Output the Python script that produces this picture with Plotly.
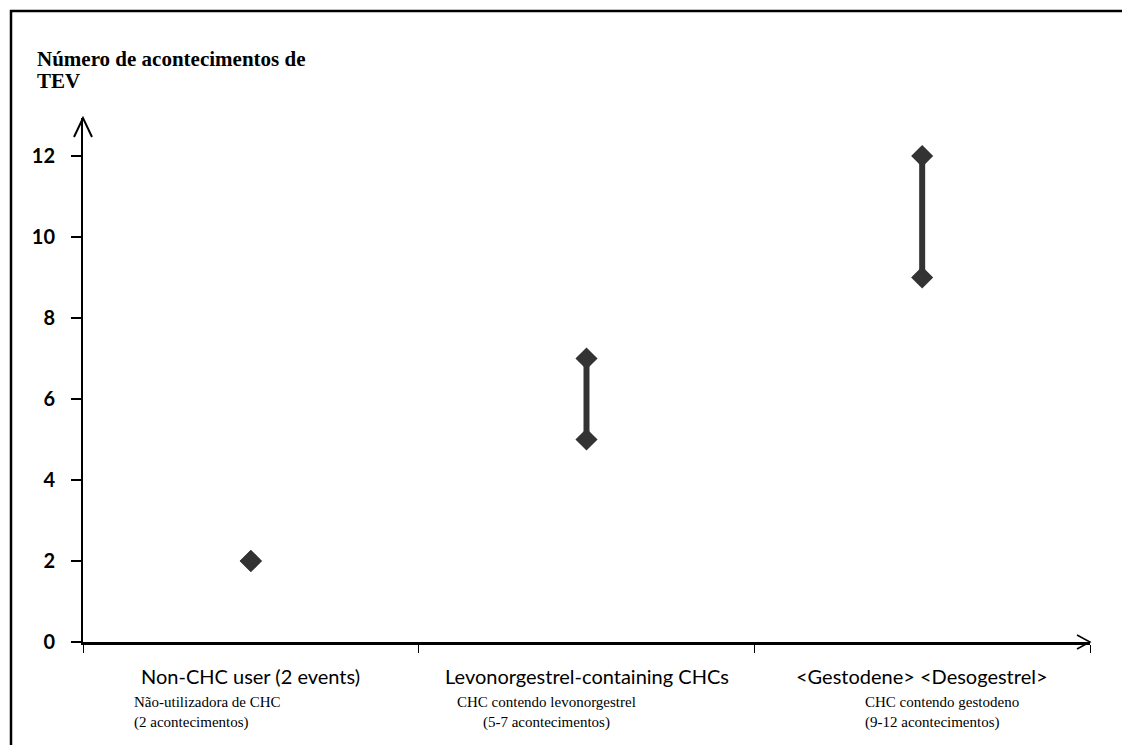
import plotly.graph_objects as go

# ---- data ----
categories_en = ["Non-CHC user (2 events)", "Levonorgestrel-containing CHCs", "<Gestodene> <Desogestrel>"]
categories_pt = ["Não-utilizadora de CHC<br>(2 acontecimentos)",
                 "CHC contendo levonorgestrel<br>(5-7 acontecimentos)",
                 "CHC contendo gestodeno<br>(9-12 acontecimentos)"]
events_low = [2, 5, 9]
events_high = [2, 7, 12]
y_ticks = [0, 2, 4, 6, 8, 10, 12]
y_title_lines = ["Número de acontecimentos de", "TEV"]

# page body has an 8px margin on every side; work in screen coordinates and convert
OFF = 8
W, H = 1130 - 2 * OFF, 753 - 2 * OFF
PL, PR, PT, PB = 83, 1090, 118, 642          # plot area in screen px
L, R, T, B = PL - OFF, W - (PR - OFF), PT - OFF, H - (PB - OFF)
PW, PH = W - L - R, H - T - B

def px(xs):
    return (xs - PL) / PW

def py(ys):
    return (PB - ys) / PH

fig = go.Figure()
col = "#333333"
for i in range(len(categories_en)):
    fig.add_trace(go.Scatter(
        x=[i, i], y=[events_low[i], events_high[i]],
        mode="lines+markers",
        line=dict(color=col, width=6),
        marker=dict(symbol="diamond", size=17, color=col),
        showlegend=False, hoverinfo="y",
    ))

annotations = []
for i, en in enumerate(categories_en):
    annotations.append(dict(
        x=i, xref="x", y=0, yref="paper", yanchor="middle", xanchor="center",
        yshift=-34, text=en.replace("<", "&lt;").replace(">", "&gt;"), showarrow=False,
        font=dict(family="Lato", size=20, color="#000000"),
    ))
pt_anchor = ["left", "center", "left"]
pt_shift = [-119, -40, -59]
for i, pt in enumerate(categories_pt):
    annotations.append(dict(
        x=i, xref="x", y=0, yref="paper", yanchor="top", xanchor=pt_anchor[i],
        xshift=pt_shift[i], yshift=-50, text=pt, showarrow=False, align=pt_anchor[i],
        font=dict(family="Liberation Serif", size=15, color="#000000"),
    ))
for k, line in enumerate(y_title_lines):
    annotations.append(dict(
        x=px(35), xref="paper", y=py(59 + 22 * k), yref="paper", xanchor="left", yanchor="middle",
        text="<b>" + line + "</b>", showarrow=False, align="left",
        font=dict(family="Liberation Serif", size=21, color="#000000"),
    ))

shapes = [
    # outer frame (top and left edges; right/bottom fall outside the picture)
    dict(type="line", xref="paper", yref="paper", x0=px(10), y0=py(11), x1=px(1200), y1=py(11),
         line=dict(color="#000000", width=2.5)),
    dict(type="line", xref="paper", yref="paper", x0=px(11), y0=py(10), x1=px(11), y1=py(800),
         line=dict(color="#000000", width=2.5)),
    # y axis arrow head
    dict(type="path", xref="paper", yref="paper",
         path=f"M {px(74)} {py(137)} L {px(83)} {py(118)} L {px(92)} {py(137)}",
         line=dict(color="#000000", width=2)),
    # x axis arrow head
    dict(type="path", xref="paper", yref="paper",
         path=f"M {px(1077)} {py(635)} L {px(1090)} {py(642)} L {px(1077)} {py(649)}",
         line=dict(color="#000000", width=1.5)),
]

fig.update_layout(
    width=W, height=H,
    margin=dict(l=L, r=R, t=T, b=B),
    plot_bgcolor="white", paper_bgcolor="white",
    annotations=annotations, shapes=shapes,
    xaxis=dict(range=[-0.5, 2.5], showgrid=False, zeroline=False, showline=True,
               linecolor="#000000", linewidth=3, ticks="outside", ticklen=8, tickwidth=1,
               tickcolor="#000000", tickvals=[-0.5, 0.5, 1.5, 2.5], showticklabels=False),
    yaxis=dict(range=[0, (PB - PT) / 40.5], showgrid=False, zeroline=False, showline=True,
               linecolor="#000000", linewidth=2, ticks="outside", ticklen=10, tickwidth=1.5,
               tickcolor="#000000", tickvals=y_ticks, ticklabelstandoff=12,
               tickfont=dict(family="Lato", size=20, color="#000000", weight="bold")),
)

fig.write_html("out.html")
